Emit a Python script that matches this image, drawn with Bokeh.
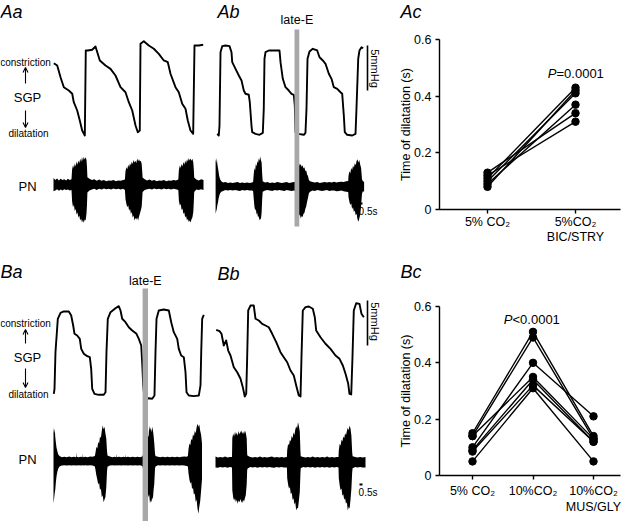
import math
from bokeh.plotting import figure
from bokeh.models import Range1d, Label, Arrow, OpenHead, BoxAnnotation, FixedTicker, LinearAxis
from bokeh.layouts import row, column
from bokeh.embed import file_html
from bokeh.resources import INLINE

FONT = "Liberation Sans"

# ---------------- data (time in s, SGP in mmHg, PN in arbitrary units) ----------------
aa_sgp_t = [0.05, 0.62, 1.17, 1.72, 2.55, 3.12, 3.38, 3.95, 4.38, 4.78, 5.22, 5.38, 5.72, 6.45, 7.0,
            7.72, 8.67, 9.5, 10.33, 11.17, 12.0, 12.55, 13.12, 13.67, 14.05, 14.38, 14.5, 15.05, 15.88,
            16.72, 17.55, 18.38, 19.05, 19.5, 20.33, 20.88, 21.45, 22.0, 22.38, 22.83, 23.28, 23.5,
            24.22, 24.95]
aa_sgp_p = [8.37, 8.11, 6.81, 5.7, 5.33, 4.97, 4.03, 3.11, 2.0, 0.89, 0.33, 9.78, 9.78, 9.86, 10.22,
            8.67, 8.11, 7.74, 7.0, 5.7, 5.14, 4.03, 3.11, 1.44, 0.7, 0.89, 10.52, 10.81, 10.33,
            9.97, 9.41, 8.67, 8.48, 7.19, 5.7, 5.14, 3.86, 3.3, 2.0, 0.89, 0.52, 10.33,
            10.33, 10.41]

ab_sgp_t = [0.12, 0.38, 0.5, 0.67, 0.95, 1.5, 2.17, 2.5, 2.62, 3.17, 3.72, 4.17, 4.55, 4.83, 5.38,
            5.55, 5.83, 5.95, 6.5, 7.17, 7.72, 7.88, 8.0, 8.17, 8.72, 9.83, 10.5, 10.67, 11.05, 11.5,
            12.05, 12.5, 12.88, 13.05, 13.17, 13.62, 14.55, 14.83, 15.0, 15.17, 15.5, 16.05, 16.78,
            17.17, 17.72, 18.17, 18.72, 19.17, 19.55, 20.12, 20.67, 20.95, 21.22, 21.38, 21.78,
            22.62, 23.17, 23.33, 23.62, 23.83, 24.17, 24.45]
ab_sgp_p = [0.52, 0.33, 1.44, 9.59, 10.26, 10.33, 10.26, 9.59, 8.48, 7.74, 7.0, 6.44, 5.33, 4.97, 4.86,
            4.03, 1.44, 0.7, 0.52, 0.41, 0.63, 3.3, 8.86, 9.59, 9.78, 9.78, 9.78, 8.48, 6.63, 5.7,
            5.33, 4.97, 4.86, 3.67, 0.7, 0.52, 0.41, 0.63, 3.3, 8.86, 9.67, 9.97, 9.78,
            9.03, 8.67, 8.3, 7.19, 6.63, 5.7, 5.52, 5.14, 4.97, 2.56, 0.7, 0.41,
            0.33, 0.52, 3.3, 8.86, 9.78, 10.14, 10.03]

ba_sgp_t = [0.05, 0.17, 0.33, 0.72, 1.17, 1.72, 2.55, 2.95, 3.28, 3.5, 3.95, 4.38, 4.62, 5.05, 5.62,
            6.05, 6.28, 6.45, 6.83, 7.55, 8.38, 8.67, 8.83, 9.05, 9.5, 10.33, 10.88, 11.17, 11.45,
            12.0, 12.55, 13.12, 13.83, 14.22, 14.62, 14.78, 14.95, 15.17, 15.88, 16.45, 16.83, 17.0,
            17.17, 17.55, 18.38, 19.22, 19.62, 20.05, 20.62, 20.88, 21.28, 21.72, 22.0, 22.17,
            22.55, 23.38, 24.22, 24.5, 24.62, 24.78, 25.05]
ba_sgp_p = [0.63, 1.19, 5.26, 8.97, 9.63, 9.78, 9.78, 9.33, 8.22, 7.3, 7.11, 6.74, 5.63, 5.08, 4.81,
            4.7, 3.41, 1.19, 0.63, 0.52, 0.52, 0.81, 5.26, 8.97, 9.7, 10.14, 10.37, 9.89, 8.97,
            8.59, 8.03, 7.67, 7.3, 6.74, 6.0, 4.14, 1.56, 0.08, 0.14, 0.08, 0.44, 5.26,
            8.97, 9.89, 10.0, 9.89, 8.59, 7.48, 6.74, 5.63, 4.89, 4.7, 3.03, 0.81,
            0.44, 0.37, 0.44, 1.56, 5.26, 8.97, 9.41]

bb_sgp_t = [0.12, 0.67, 1.0, 1.38, 1.78, 2.12, 2.5, 3.05, 3.62, 4.17, 4.55, 4.88, 5.12, 5.28, 5.45,
            5.83, 6.38, 6.67, 7.22, 7.78, 8.33, 8.88, 9.45, 10.12, 10.83, 11.38, 11.95, 12.5, 13.05,
            13.45, 13.88, 14.17, 14.33, 14.55, 15.0, 15.55, 16.22, 16.55, 16.78, 17.5, 18.33, 19.17,
            20.0, 20.67, 21.22, 21.67, 22.12, 22.33, 22.62, 22.83, 23.05, 23.45, 24.0, 24.33, 24.72]
bb_sgp_p = [7.74, 7.59, 7.3, 6.0, 6.56, 5.44, 4.89, 3.59, 3.03, 2.3, 1.37, 0.33, 0.63, 4.7, 9.89,
            10.44, 10.44, 8.97, 8.78, 8.41, 8.22, 8.03, 7.3, 6.37, 5.26, 4.7, 4.14, 3.22, 2.67,
            1.56, 0.44, 0.33, 4.7, 9.89, 10.26, 10.33, 10.08, 9.14, 7.67, 6.92, 6.19, 5.63,
            4.89, 4.52, 3.78, 2.86, 1.74, 0.63, 0.56, 4.7, 9.89, 10.7, 10.63, 9.52, 9.14]

# PN envelopes (upper / lower)
aa_pn_t = [0.0, 0.3, 0.6, 0.9, 1.2, 1.5, 1.8, 2.1, 2.4, 2.7, 3.0,
           3.1, 3.25, 3.4, 3.55, 3.7, 3.85, 4.0, 4.15, 4.3, 4.45, 4.6, 4.75, 4.9, 5.05, 5.2, 5.35, 5.5, 5.58,
           5.65, 6.0, 6.4, 6.8, 7.2, 7.6, 8.0, 8.4, 8.8, 9.2, 9.6, 10.0, 10.4, 10.8, 11.2, 11.6, 11.9,
           12.0, 12.15, 12.3, 12.45, 12.6, 12.75, 12.9, 13.05, 13.2, 13.35, 13.5, 13.65, 13.8, 13.95,
           14.1, 14.25, 14.4, 14.55, 14.7, 14.78,
           14.85, 15.2, 15.6, 16.0, 16.4, 16.8, 17.2, 17.6, 18.0, 18.4, 18.8, 19.2, 19.6, 20.0, 20.4, 20.8,
           20.9, 21.05, 21.2, 21.35, 21.5, 21.65, 21.8, 21.95, 22.1, 22.25, 22.4, 22.55, 22.7, 22.85,
           23.0, 23.15, 23.3, 23.38,
           23.45, 23.8, 24.2, 24.6, 25.0]
aa_pn_up = [1.7, 1.2, 1.6, 1.1, 1.5, 1.2, 1.4, 1.1, 1.5, 1.2, 1.4,
            3.8, 4.9, 4.2, 5.3, 4.6, 5.8, 5.0, 6.1, 5.4, 6.5, 5.7, 6.9, 6.0, 7.0, 6.3, 6.9, 6.2, 4.5,
            1.9, 1.5, 1.2, 1.4, 1.0, 1.3, 1.0, 1.2, 0.9, 1.1, 1.0, 1.2, 0.9, 1.1, 1.0, 1.2, 1.3,
            3.4, 4.4, 3.9, 5.0, 4.4, 5.4, 4.8, 5.8, 5.2, 6.2, 5.6, 6.0, 5.4, 6.6,
            5.9, 6.4, 5.8, 6.0, 5.2, 3.5,
            1.8, 1.4, 1.1, 1.3, 1.0, 1.2, 0.9, 1.1, 1.0, 1.2, 0.9, 1.1, 1.0, 1.2, 1.1, 1.3,
            3.7, 4.8, 4.2, 5.2, 4.6, 5.7, 5.0, 6.0, 5.4, 6.4, 5.8, 6.7, 6.1, 6.6,
            6.0, 6.5, 5.6, 4.0,
            1.8, 1.3, 1.1, 1.4, 1.2]
aa_pn_lo = [-1.6, -1.4, -1.1, -1.5, -1.2, -1.4, -1.1, -1.3, -1.2, -1.4, -1.3,
            -4.2, -5.6, -5.0, -6.6, -6.0, -7.4, -6.9, -8.2, -7.7, -8.9, -8.4, -9.4, -8.8, -9.5, -8.7, -8.9, -7.2, -5.0,
            -1.9, -1.4, -1.2, -1.0, -1.3, -1.0, -1.2, -0.9, -1.1, -1.0, -1.2, -0.9, -1.1, -1.0, -1.2, -1.0, -1.3,
            -3.6, -4.8, -5.6, -5.1, -6.5, -6.0, -7.3, -6.8, -8.2, -7.7, -8.9, -8.3, -8.7, -8.2,
            -8.9, -8.0, -7.2, -6.4, -5.4, -3.5,
            -1.8, -1.3, -1.1, -1.0, -1.2, -0.9, -1.1, -1.0, -1.2, -0.9, -1.1, -1.0, -1.2, -1.0, -1.1, -1.3,
            -4.0, -5.2, -4.8, -6.3, -5.9, -7.3, -6.9, -8.2, -7.8, -8.9, -8.5, -9.3, -8.9, -9.4,
            -8.6, -8.2, -6.8, -4.5,
            -1.8, -1.2, -1.3, -1.1, -1.3]

ab_pn_t = [-0.15, -0.05, 0.05, 0.15, 0.25, 0.35, 0.45, 0.6, 0.8,
           1.1, 1.5, 1.9, 2.3, 2.7, 3.1, 3.5, 3.9, 4.3, 4.7, 5.1, 5.5, 5.9, 6.1,
           6.2, 6.32, 6.44, 6.56, 6.68, 6.8, 6.92, 7.04, 7.16, 7.28, 7.4, 7.52, 7.62,
           7.7, 8.1, 8.5, 8.9, 9.3, 9.7, 10.1, 10.5, 10.9, 11.3, 11.7, 12.1, 12.5, 12.9, 13.2,
           13.3, 13.45, 13.6, 13.75, 13.9, 14.05, 14.2, 14.35, 14.5, 14.65, 14.8, 14.95, 15.1, 15.25, 15.4,
           15.6, 16.0, 16.4, 16.8, 17.2, 17.6, 18.0, 18.4, 18.8, 19.2, 19.6, 20.0, 20.4, 20.8, 21.2, 21.6, 21.95,
           22.0, 22.15, 22.3, 22.45, 22.6, 22.75, 22.9, 23.05, 23.2, 23.35, 23.5, 23.65, 23.8, 23.95, 24.1, 24.25,
           24.4, 24.6]
ab_pn_up = [6.9, 5.8, 7.1, 5.5, 4.6, 3.6, 2.6, 1.8, 1.3,
            1.0, 1.1, 0.9, 1.0, 0.9, 1.0, 1.1, 0.9, 1.0, 0.9, 1.0, 0.9, 1.0, 1.1,
            3.0, 4.6, 4.0, 5.6, 5.0, 6.4, 5.8, 7.0, 6.4, 7.5, 6.6, 6.0, 3.0,
            1.3, 1.0, 1.1, 0.9, 1.0, 0.9, 1.1, 1.0, 0.9, 1.0, 1.1, 0.9, 1.0, 1.1, 1.2,
            3.2, 5.0, 4.6, 5.8, 5.2, 5.6, 4.9, 5.3, 4.5, 4.8, 3.9, 4.0, 3.0, 2.6, 1.6,
            1.3, 1.1, 1.0, 1.1, 0.9, 1.0, 1.1, 1.0, 1.1, 1.0, 1.2, 1.0, 1.1, 1.2, 1.1, 1.3, 1.4,
            2.6, 3.8, 3.3, 4.6, 4.1, 5.2, 4.7, 5.8, 5.3, 6.4, 6.8, 6.0, 6.6, 5.5, 4.6, 1.8,
            1.3, 1.2]
ab_pn_lo = [-6.8, -6.2, -5.6, -4.6, -4.0, -3.0, -2.4, -1.7, -1.3,
            -1.1, -0.9, -1.0, -0.9, -1.0, -0.9, -1.0, -1.1, -0.9, -1.0, -0.9, -1.0, -1.0, -1.1,
            -3.0, -5.0, -6.0, -5.6, -7.0, -6.6, -7.8, -7.3, -8.5, -8.0, -8.3, -6.5, -3.0,
            -1.3, -1.0, -0.9, -1.0, -1.1, -0.9, -1.0, -0.9, -1.0, -1.1, -0.9, -1.0, -1.1, -1.0, -1.2,
            -3.2, -5.4, -6.4, -7.3, -7.0, -8.0, -7.4, -7.6, -6.8, -6.6, -5.6, -5.0, -3.8, -2.8, -1.7,
            -1.3, -1.0, -1.1, -0.9, -1.0, -1.1, -1.0, -0.9, -1.1, -1.0, -1.0, -1.2, -1.1, -1.0, -1.2, -1.3, -1.4,
            -2.6, -3.8, -4.6, -4.2, -5.6, -5.2, -6.4, -6.0, -7.2, -6.8, -8.2, -8.8, -8.0, -7.0, -4.8, -1.8,
            -1.2, -1.3]

ba_pn_t = [0.0, 0.1, 0.2, 0.3, 0.4, 0.5, 0.65, 0.8, 1.0,
           1.4, 1.8, 2.2, 2.6, 3.0, 3.4, 3.75, 3.8, 3.85, 4.2, 4.6, 4.85, 4.9, 4.95, 5.3, 5.7, 6.1, 6.5, 6.9,
           7.0, 7.15, 7.3, 7.45, 7.6, 7.75, 7.9, 8.05, 8.2, 8.35, 8.5, 8.65, 8.8, 8.92,
           9.0, 9.4, 9.8, 10.2, 10.45, 10.5, 10.55, 10.9, 11.3, 11.7, 11.95, 12.0, 12.05, 12.4, 12.8,
           13.2, 13.6, 14.0, 14.4, 14.8,
           15.6, 15.72, 15.84, 15.96, 16.08, 16.2, 16.32, 16.44, 16.56, 16.68, 16.8, 16.92,
           17.0, 17.4, 17.8, 18.2, 18.6, 19.0, 19.4, 19.8, 20.2, 20.6, 21.0, 21.4, 21.8, 22.2, 22.4,
           22.5, 22.65, 22.8, 22.95, 23.1, 23.25, 23.4, 23.55, 23.7, 23.85, 24.0, 24.15, 24.3, 24.45,
           24.6, 24.75]
ba_pn_up = [8.5, 7.0, 8.2, 6.0, 4.6, 3.4, 2.4, 1.7, 1.3,
            1.0, 1.1, 1.0, 1.2, 1.0, 1.1, 1.0, 2.2, 1.1, 1.0, 1.1, 1.0, 1.9, 1.0, 1.1, 1.0, 1.2, 1.1, 1.3,
            2.2, 3.6, 3.2, 4.8, 4.4, 6.2, 5.8, 7.6, 8.9, 8.0, 8.6, 7.0, 5.6, 2.5,
            1.4, 1.2, 1.0, 1.1, 1.0, 1.8, 1.0, 1.1, 1.0, 1.1, 1.0, 1.7, 1.0, 1.1, 1.0,
            1.1, 1.0, 1.1, 1.0, 1.2,
            4.0, 6.6, 6.0, 8.9, 7.6, 8.4, 7.2, 8.6, 7.8, 6.4, 4.4, 1.8,
            1.3, 1.1, 1.0, 1.1, 1.0, 1.1, 1.0, 1.1, 1.0, 1.1, 1.0, 1.1, 1.2, 1.1, 1.3,
            3.0, 4.4, 4.0, 5.6, 5.2, 6.8, 6.2, 7.6, 7.0, 8.4, 9.35, 8.6, 9.2, 7.6,
            6.6, 4.5]
ba_pn_lo = [-10.6, -9.4, -8.0, -7.0, -5.2, -3.8, -2.6, -1.8, -1.3,
            -1.1, -1.0, -1.1, -1.0, -1.1, -1.0, -1.1, -1.0, -1.1, -1.0, -1.1, -1.0, -1.0, -1.1, -1.0, -1.1,
            -1.0, -1.1, -1.3,
            -2.2, -3.6, -4.6, -5.8, -5.4, -7.2, -6.8, -9.0, -8.5, -10.25, -9.6, -9.0, -6.5, -2.5,
            -1.4, -1.1, -1.0, -1.1, -1.0, -1.0, -1.1, -1.0, -1.1, -1.0, -1.1, -1.0, -1.0, -1.1, -1.0,
            -1.1, -1.0, -1.1, -1.0, -1.2,
            -5.0, -7.8, -9.0, -8.4, -10.6, -9.8, -10.2, -9.0, -9.6, -7.2, -5.6, -1.8,
            -1.3, -1.0, -1.1, -1.0, -1.1, -1.0, -1.1, -1.0, -1.1, -1.0, -1.1, -1.0, -1.1, -1.2, -1.3,
            -3.0, -4.6, -5.6, -5.2, -7.0, -6.6, -8.4, -8.0, -10.2, -9.6, -11.8, -13.15, -11.4, -10.0,
            -7.4, -4.5]

bb_pn_t = [0.0, 0.4, 0.8, 1.2, 1.6, 2.0, 2.4, 2.75,
           2.8, 2.95, 3.1, 3.25, 3.4, 3.55, 3.7, 3.85, 4.0, 4.15, 4.3, 4.45, 4.6, 4.75, 4.9, 5.05, 5.2, 5.28,
           5.35, 5.8, 6.2, 6.6, 7.0, 7.4, 7.8, 8.2, 8.6, 9.0, 9.4, 9.8, 10.2, 10.6, 11.0, 11.4, 11.9,
           11.95, 12.1, 12.25, 12.4, 12.55, 12.7, 12.85, 13.0, 13.15, 13.3, 13.45, 13.6, 13.75, 13.9,
           14.05, 14.15,
           14.2, 14.6, 15.0, 15.4, 15.8, 16.2, 16.6, 17.0, 17.4, 17.8, 18.2, 18.6, 19.0, 19.4, 19.8,
           20.2, 20.5,
           20.55, 20.7, 20.85, 21.0, 21.15, 21.3, 21.45, 21.6, 21.75, 21.9, 22.05, 22.2, 22.35, 22.5,
           22.65, 22.78,
           22.85, 23.3, 23.7, 24.1, 24.5, 25.0]
bb_pn_up = [1.4, 1.2, 1.3, 1.2, 1.4, 1.2, 1.3, 1.3,
            6.0, 7.2, 6.4, 7.6, 6.8, 7.4, 6.6, 7.8, 7.0, 7.5, 7.9, 7.1, 7.7, 7.0, 7.9, 7.3, 6.0, 2.0,
            1.6, 1.3, 1.2, 1.3, 1.2, 1.4, 1.2, 1.3, 1.2, 1.3, 1.4, 1.2, 1.3, 1.2, 1.3, 1.2, 1.3,
            3.0, 4.6, 4.2, 5.6, 5.2, 6.6, 6.0, 7.4, 6.8, 8.2, 9.0, 8.4, 10.0, 9.0,
            7.6, 3.0,
            1.5, 1.3, 1.2, 1.3, 1.2, 1.4, 1.2, 1.3, 1.2, 1.3, 1.2, 1.4, 1.2, 1.3, 1.2,
            1.3, 1.3,
            3.0, 4.6, 4.2, 5.6, 5.2, 6.4, 6.0, 7.2, 6.8, 7.8, 8.6, 8.0, 9.2, 8.4,
            6.6, 2.5,
            1.5, 1.3, 1.2, 1.3, 1.2, 1.3]
bb_pn_lo = [-1.3, -1.4, -1.2, -1.3, -1.2, -1.4, -1.2, -1.3,
            -7.0, -8.8, -9.6, -9.0, -10.0, -9.4, -10.4, -9.6, -10.0, -9.2, -9.8, -10.2, -9.4, -9.9, -9.0,
            -8.2, -5.5, -2.0,
            -1.6, -1.2, -1.3, -1.2, -1.4, -1.2, -1.3, -1.2, -1.3, -1.2, -1.3, -1.4, -1.2, -1.3, -1.2, -1.3, -1.3,
            -4.0, -5.6, -6.6, -6.2, -8.0, -7.6, -9.4, -9.0, -10.6, -10.0, -12.1, -11.4, -11.6, -9.6,
            -7.4, -3.0,
            -1.5, -1.2, -1.3, -1.2, -1.3, -1.2, -1.4, -1.2, -1.3, -1.2, -1.3, -1.2, -1.4, -1.2, -1.3,
            -1.2, -1.3,
            -4.0, -5.8, -7.0, -6.6, -8.4, -8.0, -9.4, -9.0, -10.4, -10.0, -12.1, -11.2, -11.6, -9.4,
            -6.6, -2.5,
            -1.5, -1.2, -1.3, -1.2, -1.3, -1.3]

# late-E windows (s)
ab_late_e = [13.0, 13.8]
ba_late_e = [14.85, 15.75]

# Ac: time of dilatation (s)
ac_groups = ["5% CO₂", "5%CO₂"]
ac_sub = ["", "BIC/STRY"]
ac_ctrl = [0.13, 0.12, 0.11, 0.10, 0.09, 0.08]
ac_drug = [0.34, 0.31, 0.43, 0.41, 0.37, 0.42]

# Bc
bc_groups = ["5% CO₂", "10%CO₂", "10%CO₂"]
bc_sub = ["", "", "MUS/GLY"]
bc_5 = [0.15, 0.14, 0.10, 0.14, 0.09, 0.085, 0.05]
bc_10 = [0.51, 0.49, 0.40, 0.35, 0.34, 0.32, 0.31]
bc_mg = [0.14, 0.13, 0.21, 0.13, 0.12, 0.12, 0.05]

y_ticks = [0, 0.2, 0.4, 0.6]


# ---------------- helpers ----------------
def lab(p, x, y, text, size, align="center", style="normal", angle=0.0):
    p.add_layout(Label(x=x, y=y, text=text, text_font=FONT, text_font_size=f"{size}px",
                       text_align=align, text_baseline="middle", text_font_style=style,
                       angle=angle, text_color="black"))


def trace_fig(w, h, xa, xb, ya, yb, x0, base, pnc):
    fx = lambda X: (X - x0) / 6.0
    fy = lambda Y: (base - Y) / 9.0
    fa = lambda Y: (pnc - Y) / 4.0
    p = figure(width=w, height=h, x_range=Range1d(fx(xa), fx(xb)), y_range=Range1d(fy(yb), fy(ya)),
               x_axis_type=None, y_axis_type=None, output_backend="svg", toolbar_location=None,
               min_border=0, outline_line_color=None, title=None)
    p.extra_y_ranges = {"pn": Range1d(fa(yb), fa(ya))}
    p.grid.visible = False
    return p, fx, fy


def draw_trace(p, st, sp, pt, pu, pl):
    p.line(st, sp, line_width=1.9, line_color="black", line_join="round")
    p.varea(x=pt, y1=pl, y2=pu, fill_color="black", y_range_name="pn")


def left_labels(p, fx, fy, yc, ysgp, yd, yup, ydn, ypn):
    lab(p, fx(25), fy(yc), "constriction", 10)
    p.add_layout(Arrow(end=OpenHead(size=5, line_width=1.1, line_color="black"),
                       x_start=fx(25), y_start=fy(yup[0]), x_end=fx(25), y_end=fy(yup[1]),
                       line_width=1.1, line_color="black"))
    lab(p, fx(27), fy(ysgp), "SGP", 13)
    p.add_layout(Arrow(end=OpenHead(size=5, line_width=1.1, line_color="black"),
                       x_start=fx(25), y_start=fy(ydn[0]), x_end=fx(25), y_end=fy(ydn[1]),
                       line_width=1.1, line_color="black"))
    lab(p, fx(28), fy(yd), "dilatation", 10)
    lab(p, fx(27), fy(ypn), "PN", 13)


def late_e(p, fy, win, ytop, ybot, ytext):
    p.add_layout(BoxAnnotation(left=win[0], right=win[1], top=fy(ytop), bottom=fy(ybot),
                               fill_color="#a8a8a8", fill_alpha=1.0, line_color=None))
    lab(p, (win[0] + win[1]) / 2, fy(ytext), "late-E", 12.5)


def scale_bars(p, fx, fy, xbar, ybar_bottom, xtext, ytext, xs, ys, ystext):
    tb = fx(xbar)
    p.line([tb, tb], [fy(ybar_bottom), fy(ybar_bottom) + 5.0], line_width=1.6, line_color="black")
    lab(p, fx(xtext), fy(ytext), "5mmHg", 11, angle=-math.pi / 2)
    t0 = fx(xs)
    p.line([t0, t0 + 0.5], [fy(ys), fy(ys)], line_width=2, line_color="black")
    lab(p, t0 - 0.15, fy(ystext), "0.5s", 10, align="left")


def scatter_fig(w, h, xr, yr, xaxis_at, xbounds, ticks, groups, std):
    p = figure(width=w, height=h, x_range=Range1d(*xr), y_range=Range1d(*yr),
               x_axis_location=None, y_axis_location=None, min_border=0,
               output_backend="svg", toolbar_location=None, outline_line_color=None, title=None)
    p.grid.visible = False
    xa = LinearAxis(fixed_location=0, ticker=FixedTicker(ticks=ticks), bounds=xbounds,
                    major_label_overrides={t: g for t, g in zip(ticks, groups)})
    ya = LinearAxis(fixed_location=xaxis_at, ticker=FixedTicker(ticks=y_ticks), bounds=(0, 0.6))
    p.add_layout(xa, "below")
    p.add_layout(ya, "left")
    for ax in (xa, ya):
        ax.axis_line_width = 1.4
        ax.axis_line_color = "black"
        ax.major_tick_line_width = 1.4
        ax.major_tick_line_color = "black"
        ax.major_tick_out = 4
        ax.major_tick_in = 0
        ax.minor_tick_line_color = None
        ax.major_label_text_font = FONT
        ax.major_label_text_font_size = "12.5px"
        ax.major_label_text_color = "black"
    xa.major_label_standoff = std
    ya.major_label_standoff = 4
    return p


# ---------------- Aa ----------------
aa, fx, fy = trace_fig(207, 245, 0, 207, 0, 245, 53, 138, 184.3)
draw_trace(aa, aa_sgp_t, aa_sgp_p, aa_pn_t, aa_pn_up, aa_pn_lo)
lab(aa, fx(0), fy(11.5), "Aa", 18, align="left", style="italic")
left_labels(aa, fx, fy, 61.7, 97, 133, (83, 67), (110, 127), 186)

# ---------------- Ab ----------------
ab, fx, fy = trace_fig(173, 245, 207, 380, 0, 245, 216, 138, 186)
draw_trace(ab, ab_sgp_t, ab_sgp_p, ab_pn_t, ab_pn_up, ab_pn_lo)
lab(ab, fx(217), fy(11.5), "Ab", 18, align="left", style="italic")
late_e(ab, fy, ab_late_e, 29, 226, 19)
scale_bars(ab, fx, fy, 367, 90, 374.5, 68, 359, 203, 211)

# ---------------- Ac ----------------
vA = lambda Y: (209 - Y) / 170 * 0.6
xA = lambda X: 1 + (X - 487) / 88
ac = scatter_fig(244, 245, (xA(380), xA(624)), (vA(245), vA(0)), xA(439), (xA(439), xA(620)),
                 [1, 2], ac_groups, 1)
ac.multi_line(xs=[[1, 2] for _ in ac_ctrl], ys=[[a, b] for a, b in zip(ac_ctrl, ac_drug)],
              line_color="black", line_width=1.4)
ac.scatter([1] * len(ac_ctrl) + [2] * len(ac_drug), ac_ctrl + ac_drug, size=7.5, color="black")
lab(ac, xA(400), vA(11.5), "Ac", 18, align="left", style="italic")
lab(ac, xA(405), 0.3, "Time of dilatation (s)", 12.5, angle=math.pi / 2)
lab(ac, 2, vA(236), ac_sub[1], 12.5)
lab(ac, xA(556), vA(73), "P", 13, align="right", style="italic")
lab(ac, xA(556), vA(73), "=0.0001", 13, align="left")

# ---------------- Ba ----------------
ba, fx, fy = trace_fig(207, 276, 0, 207, 245, 521, 53, 399, 460.7)
draw_trace(ba, ba_sgp_t, ba_sgp_p, ba_pn_t, ba_pn_up, ba_pn_lo)
lab(ba, fx(0), fy(271.5), "Ba", 18, align="left", style="italic")
left_labels(ba, fx, fy, 322.7, 357, 394, (343, 329), (368, 387), 459)
late_e(ba, fy, ba_late_e, 288, 521, 280)

# ---------------- Bb ----------------
bb, fx, fy = trace_fig(173, 276, 207, 380, 245, 521, 215, 399, 461.7)
draw_trace(bb, bb_sgp_t, bb_sgp_p, bb_pn_t, bb_pn_up, bb_pn_lo)
lab(bb, fx(217), fy(273.5), "Bb", 18, align="left", style="italic")
scale_bars(bb, fx, fy, 367, 345, 374.5, 321, 359, 484, 492)

# ---------------- Bc ----------------
vB = lambda Y: (475 - Y) / 169 * 0.6
xB = lambda X: 1 + (X - 472) / 60.5
bc = scatter_fig(244, 276, (xB(380), xB(624)), (vB(521), vB(245)), xB(439), (xB(439), xB(620)),
                 [1, 2, 3], bc_groups, 4)
bc.multi_line(xs=[[1, 2, 3] for _ in bc_5], ys=[[a, b, c] for a, b, c in zip(bc_5, bc_10, bc_mg)],
              line_color="black", line_width=1.4)
bc.scatter([1] * len(bc_5) + [2] * len(bc_10) + [3] * len(bc_mg), bc_5 + bc_10 + bc_mg,
           size=7.5, color="black")
lab(bc, xB(400), vB(271.5), "Bc", 18, align="left", style="italic")
lab(bc, xB(405), 0.3, "Time of dilatation (s)", 12.5, angle=math.pi / 2)
lab(bc, 3, vB(506), bc_sub[2], 12.5)
lab(bc, xB(512), vB(319), "P", 13, align="right", style="italic")
lab(bc, xB(512), vB(319), "<0.0001", 13, align="left")

layout = column(row(aa, ab, ac), row(ba, bb, bc))
open("out.html", "w").write(file_html(layout, INLINE))
